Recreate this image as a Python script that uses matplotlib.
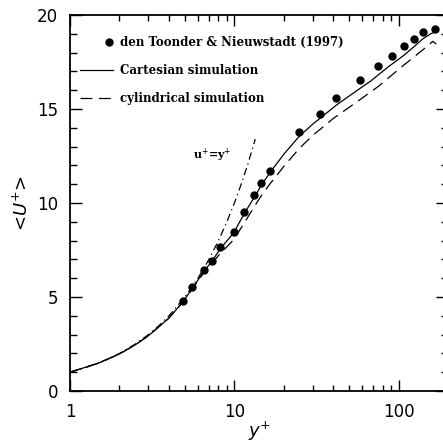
import numpy as np
import matplotlib
matplotlib.use("Agg")
import matplotlib.pyplot as plt
from matplotlib.legend_handler import HandlerLine2D
from matplotlib.ticker import MultipleLocator, FixedLocator, NullFormatter

# den Toonder & Nieuwstadt (1997) experiment
exp_yp = [4.84, 5.54, 6.50, 7.31, 8.18, 9.91, 11.5, 13.2, 14.6, 16.4,
          24.8, 33.1, 41.3, 58.1, 74.5, 91.0, 107.7, 123.0, 140.0, 166.0]
exp_up = [4.80, 5.55, 6.44, 6.93, 7.64, 8.47, 9.54, 10.40, 11.04, 11.70,
          13.76, 14.75, 15.59, 16.54, 17.27, 17.82, 18.37, 18.72, 19.08, 19.27]

# Cartesian simulation
cart_yp = [1, 1.5, 2, 2.5, 3, 4, 4.84, 5.54, 6.5, 7.31, 8.18, 9.91, 11.5, 13.2,
           14.6, 16.4, 20, 24.8, 30, 42.3, 55, 67.5, 85, 107.8, 125, 139.4, 156, 169]
cart_up = [1.0, 1.49, 1.97, 2.46, 2.94, 3.88, 4.72, 5.45, 6.35, 6.9, 7.55, 8.42,
           9.45, 10.3, 10.95, 11.6, 12.6, 13.55, 14.2, 15.25, 15.95, 16.49, 17.2,
           17.87, 18.35, 18.72, 19.0, 19.12]

# cylindrical simulation
cyl_yp = [1, 1.5, 2, 2.5, 3, 4, 4.84, 5.54, 6.5, 7.31, 8.18, 9.91, 11.5, 13.2,
          14.6, 16.4, 20, 24.8, 30, 40, 55, 75, 106, 125, 147, 161, 169]
cyl_up = [1.0, 1.49, 1.97, 2.46, 2.94, 3.88, 4.72, 5.42, 6.28, 6.8, 7.3, 8.05,
          8.95, 9.8, 10.4, 11.0, 11.95, 12.9, 13.6, 14.5, 15.35, 16.2, 17.3,
          17.8, 18.3, 18.6, 18.45]

# viscous sublayer u+ = y+
lin_yp = [1, 1.25, 1.5, 1.75, 2, 2.5, 3, 3.5, 4, 5, 6, 7, 8, 9, 10, 11, 12, 13.4]


class RightDot(HandlerLine2D):
    # single marker sits at the right end of the handle, next to the text
    def get_xdata(self, legend, xdescent, ydescent, width, height, fontsize):
        xr = -xdescent + width - 0.42 * fontsize
        return [xr - 1, xr + 1], [xr]


fig = plt.figure(figsize=(4.43, 4.44), dpi=100)
ax = fig.add_axes([0.158, 0.1194, 0.854, 0.8468])

ax.plot(cart_yp, cart_up, color='black', lw=0.9, label='Cartesian simulation')
ax.plot(cyl_yp, cyl_up, color='black', lw=0.9, dashes=(9.5, 5.2),
        label='cylindrical simulation')
ax.plot(lin_yp, lin_yp, color='black', lw=0.9, dashes=(6, 3, 1, 3))
pts, = ax.plot(exp_yp, exp_up, 'o', color='black', ms=5,
               label='den Toonder & Nieuwstadt (1997)')

ax.text(7.3, 12.55, 'u$^{+}$=y$^{+}$', fontsize=8, fontweight='bold',
        family='DejaVu Serif', ha='center', va='center')

ax.set_xscale('log')
ax.set_xlim(1, 200)
ax.set_ylim(0, 20)

ax.xaxis.set_major_locator(FixedLocator([1, 10, 100]))
ax.set_xticklabels(['1', '10', '100'])
ax.xaxis.set_minor_locator(FixedLocator([m * d for d in (1, 10, 100) for m in range(2, 10)]))
ax.xaxis.set_minor_formatter(NullFormatter())
ax.yaxis.set_major_locator(MultipleLocator(5))
ax.yaxis.set_minor_locator(MultipleLocator(1))

ax.tick_params(which='both', direction='in', top=True, right=True,
               labelsize=12, pad=8.5, width=1.0)
ax.tick_params(axis='y', which='major', length=8.6)
ax.tick_params(axis='y', which='minor', length=5)
ax.tick_params(axis='x', which='major', length=8)
ax.tick_params(axis='x', which='minor', length=4.3)
for sp in ax.spines.values():
    sp.set_linewidth(1.3)

ax.set_xlabel('$y^{+}$', fontsize=13, labelpad=-1)
ax.set_ylabel('<$U^{+}$>', fontsize=13, labelpad=4)

handles, labels = ax.get_legend_handles_labels()
order = [labels.index('den Toonder & Nieuwstadt (1997)'),
         labels.index('Cartesian simulation'),
         labels.index('cylindrical simulation')]
leg = ax.legend([handles[i] for i in order], [labels[i] for i in order],
                loc='upper left', bbox_to_anchor=(0.026, 0.945), frameon=False,
                borderpad=0, borderaxespad=0, handlelength=2.85,
                handletextpad=0.55, labelspacing=1.3,
                handler_map={pts: RightDot(numpoints=1)},
                prop={'family': 'DejaVu Serif', 'weight': 'bold', 'size': 8.5})

fig.savefig('out.png', dpi=100)
